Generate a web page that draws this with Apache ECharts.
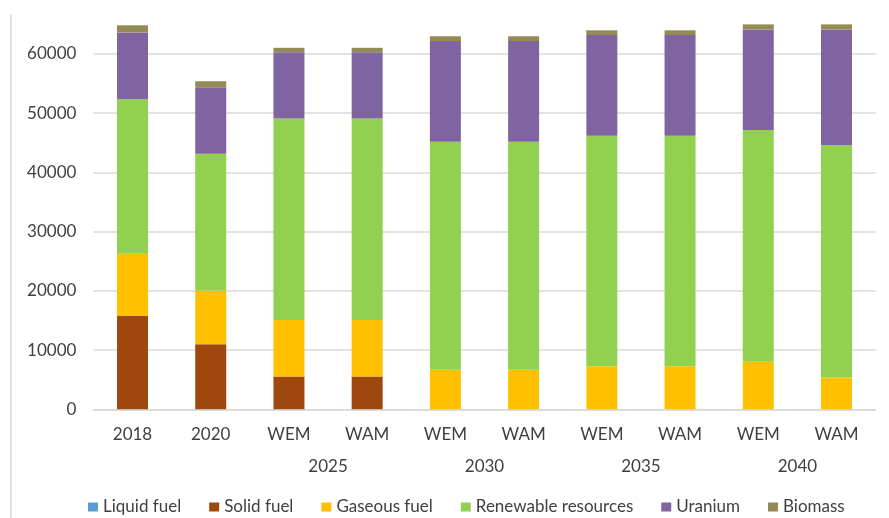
<!DOCTYPE html>
<html>
<head>
<meta charset="utf-8">
<title>Primary energy supply by source</title>
<script src="https://cdn.jsdelivr.net/npm/echarts@6/dist/echarts.min.js"></script>
<style>
  html, body { margin: 0; padding: 0; background: #ffffff; }
  #chart { width: 889px; height: 518px; }
</style>
</head>
<body>
<div id="chart"></div>
<script>
// Category labels: scenario row and year row
const categories = ['2018', '2020', 'WEM', 'WAM', 'WEM', 'WAM', 'WEM', 'WAM', 'WEM', 'WAM'];
const yearGroups = ['', '2025', '2030', '2035', '2040'];

// Supply by source for each column
const liquidFuel  = [0, 0, 0, 0, 0, 0, 0, 0, 0, 0];
const solidFuel   = [15750, 11000, 5550, 5550, 0, 0, 0, 0, 0, 0];
const gaseousFuel = [10500, 9000, 9550, 9550, 6700, 6700, 7250, 7250, 8050, 5350];
const renewables  = [26100, 23150, 34000, 34000, 38500, 38500, 38950, 38950, 39100, 39300];
const uranium     = [11300, 11250, 11200, 11200, 17000, 17000, 17000, 17000, 17000, 19500];
const biomass     = [1200, 1000, 750, 750, 800, 800, 800, 800, 850, 850];

const seriesNames  = ['Liquid fuel', 'Solid fuel', 'Gaseous fuel', 'Renewable resources', 'Uranium', 'Biomass'];
const seriesData   = [liquidFuel, solidFuel, gaseousFuel, renewables, uranium, biomass];
const seriesColors = ['#5b9bd5', '#9e480e', '#ffc000', '#92d050', '#8064a2', '#948a54'];

const textColor = '#404040';
const gridColor = '#d9d9d9';
const fontFamily = 'Lato, "Open Sans", sans-serif';

const chart = echarts.init(document.getElementById('chart'), null, { renderer: 'canvas' });

chart.setOption({
  animation: false,
  backgroundColor: '#ffffff',
  textStyle: { fontFamily: fontFamily },
  // The 70000 line sits just above the canvas edge
  grid: { left: 93.4, right: 13.4, top: -5.2, bottom: 108.7, containLabel: false, outerBoundsMode: 'none' },
  xAxis: [
    {
      type: 'category',
      data: categories,
      boundaryGap: true,
      axisLine: { show: true, lineStyle: { color: gridColor, width: 1.5 } },
      axisTick: { show: false },
      splitLine: { show: false },
      axisLabel: { color: textColor, fontSize: 17, fontFamily: fontFamily, margin: 17, interval: 0 }
    },
    {
      type: 'category',
      data: yearGroups,
      position: 'bottom',
      offset: 31.5,
      gridIndex: 0,
      boundaryGap: true,
      axisLine: { show: false },
      axisTick: { show: false },
      splitLine: { show: false },
      axisLabel: { color: textColor, fontSize: 17, fontFamily: fontFamily, margin: 17, interval: 0 }
    }
  ],
  yAxis: {
    type: 'value',
    min: 0,
    max: 70000,
    interval: 10000,
    axisLine: { show: false },
    axisTick: { show: false },
    splitLine: { show: true, lineStyle: { color: gridColor, width: 1.5 } },
    axisLabel: {
      color: textColor, fontSize: 17, fontFamily: fontFamily, margin: 17, showMaxLabel: false,
      formatter: (v) => String(v)
    }
  },
  legend: {
    data: seriesNames,
    left: 83,
    top: 492,
    icon: 'rect',
    itemWidth: 10,
    itemHeight: 9,
    itemGap: 28,
    textStyle: { color: textColor, fontSize: 17, fontFamily: fontFamily, lineHeight: 20 }
  },
  graphic: [
    {
      type: 'line',
      silent: true,
      shape: { x1: 11, y1: 14, x2: 11, y2: 518 },
      style: { stroke: gridColor, lineWidth: 1.5 }
    }
  ],
  series: seriesNames.map((name, i) => ({
    name: name,
    type: 'bar',
    stack: 'total',
    xAxisIndex: 0,
    barWidth: 31,
    itemStyle: { color: seriesColors[i] },
    data: seriesData[i]
  }))
});
</script>
</body>
</html>
